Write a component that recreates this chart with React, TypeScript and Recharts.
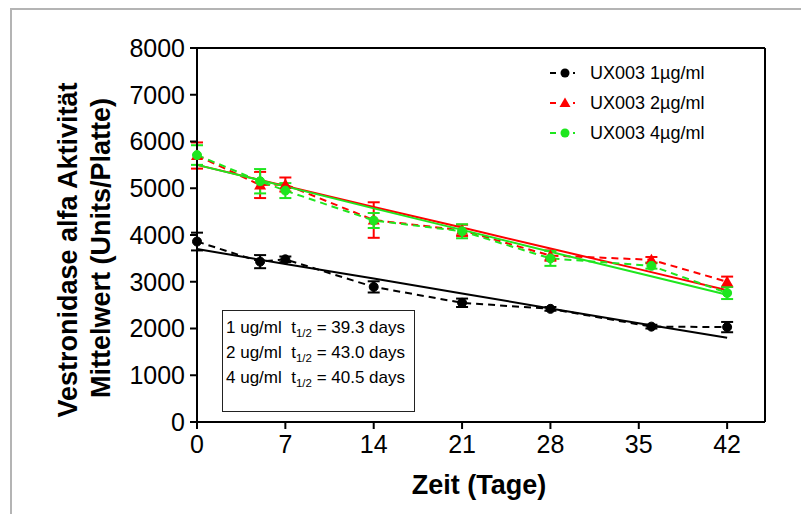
import {
  ComposedChart,
  ErrorBar,
  Label,
  Line,
  ReferenceLine,
  XAxis,
  YAxis,
} from 'recharts';

// measured days and mean activity (Units/Platte) with error
const days = [0, 5, 7, 14, 21, 28, 36, 42];
const mean1 = [3860, 3430, 3480, 2890, 2550, 2420, 2040, 2030];
const err1 = [190, 140, 60, 120, 90, 40, 40, 110];
const mean2 = [5700, 5070, 5080, 4320, 4100, 3560, 3470, 3000];
const err2 = [280, 280, 150, 380, 120, 110, 60, 110];
const mean4 = [5710, 5150, 4950, 4310, 4080, 3500, 3340, 2760];
const err4 = [210, 260, 160, 160, 150, 160, 60, 130];

// fitted decay lines
const fitDays = [0, 7, 14, 21, 28, 35, 42];
const fit1 = [3700, 3380, 3070, 2750, 2430, 2110, 1800];
const fit2 = [5500, 5050, 4600, 4160, 3710, 3270, 2820];
const fit4 = [5500, 5040, 4570, 4110, 3640, 3180, 2720];

const xTicks = [0, 7, 14, 21, 28, 35, 42];
const yTicks = [0, 1000, 2000, 3000, 4000, 5000, 6000, 7000, 8000];

const seriesNames = ['UX003 1µg/ml', 'UX003 2µg/ml', 'UX003 4µg/ml'];
const doses = ['1 ug/ml', '2 ug/ml', '4 ug/ml'];
const halfLives = ['39.3', '43.0', '40.5'];

const BLACK = '#000000';
const RED = '#ff0000';
const GREEN = '#1ee61e';
const FONT = 'Arial, "Liberation Sans", sans-serif';

const toRows = (vals: number[], errs: number[]) =>
  days.map((d, i) => ({ day: d, v: vals[i], e: errs[i] }));
const toFit = (vals: number[]) => fitDays.map((d, i) => ({ day: d, v: vals[i] }));

const s1 = toRows(mean1, err1);
const s2 = toRows(mean2, err2);
const s4 = toRows(mean4, err4);

const circleDot = (color: string) => (props: any) => {
  const { cx, cy, index } = props;
  if (cx == null || cy == null) return <g key={index} />;
  return <circle key={index} cx={cx} cy={cy} r={4.5} fill={color} stroke={color} />;
};

const triangleDot = (props: any) => {
  const { cx, cy, index } = props;
  if (cx == null || cy == null) return <g key={index} />;
  return (
    <polygon
      key={index}
      points={`${cx},${cy - 6} ${cx - 6},${cy + 4.5} ${cx + 6},${cy + 4.5}`}
      fill={RED}
    />
  );
};

const colors = [BLACK, RED, GREEN];

function LegendBox() {
  return (
    <div
      style={{
        position: 'absolute',
        left: 550,
        top: 58,
        fontFamily: FONT,
        fontSize: 18,
        color: '#000',
      }}
    >
      {seriesNames.map((name, i) => (
        <div key={name} style={{ display: 'flex', alignItems: 'center', height: 30 }}>
          <svg width={32} height={14} style={{ marginRight: 8 }}>
            <line x1={0} y1={7} x2={6} y2={7} stroke={colors[i]} strokeWidth={2} />
            {i === 1 ? (
              <polygon points="15,1.5 9.5,11 20.5,11" fill={RED} />
            ) : (
              <circle cx={15} cy={7} r={4.5} fill={colors[i]} />
            )}
            <line x1={23} y1={7} x2={25} y2={7} stroke={colors[i]} strokeWidth={2} />
          </svg>
          <span>{name}</span>
        </div>
      ))}
    </div>
  );
}

function YTitle() {
  const style = { fontFamily: FONT, fontSize: 27, fontWeight: 700, fill: '#000' };
  return (
    <g>
      <text transform="translate(68,250) rotate(-90)" textAnchor="middle" dominantBaseline="central" style={style}>
        Vestronidase alfa Aktivität
      </text>
      <text transform="translate(101,248) rotate(-90)" textAnchor="middle" dominantBaseline="central" style={style}>
        Mittelwert (Units/Platte)
      </text>
    </g>
  );
}

function XTitle() {
  return (
    <text
      x={479}
      y={494}
      textAnchor="middle"
      style={{ fontFamily: FONT, fontSize: 27, fontWeight: 700, fill: '#000' }}
    >
      Zeit (Tage)
    </text>
  );
}

export default function App() {
  const axisStroke = { stroke: '#000', strokeWidth: 2 };
  const tickStyle = { fill: '#000', fontSize: 25, fontFamily: FONT };

  return (
    <div style={{ position: 'absolute', left: 0, top: 0, width: 801, height: 514, background: '#fff' }}>
      <div
        style={{
          position: 'absolute',
          left: 10,
          top: 8,
          right: 0,
          bottom: 0,
          borderTop: '2px solid #b4b4b4',
          borderLeft: '2px solid #b4b4b4',
        }}
      />
      <ComposedChart width={801} height={514} margin={{ top: 48, right: 36, bottom: 0, left: 0 }}>
        <XAxis
          type="number"
          dataKey="day"
          domain={[0, 45]}
          ticks={xTicks}
          height={92}
          tickSize={7}
          tickMargin={6}
          axisLine={axisStroke}
          tickLine={axisStroke}
          tick={tickStyle}
          allowDuplicatedCategory={false}
        >
          <Label content={XTitle} />
        </XAxis>
        <YAxis
          type="number"
          domain={[0, 8000]}
          ticks={yTicks}
          width={197}
          tickSize={7}
          tickMargin={5}
          axisLine={axisStroke}
          tickLine={axisStroke}
          tick={tickStyle}
        >
          <Label content={YTitle} />
        </YAxis>
        <ReferenceLine y={8000} stroke="#000" strokeWidth={2} />
        <ReferenceLine x={45} stroke="#000" strokeWidth={2} />

        <Line
          data={s1}
          dataKey="v"
          stroke={BLACK}
          strokeWidth={2}
          strokeDasharray="7 5"
          dot={circleDot(BLACK)}
          isAnimationActive={false}
        >
          <ErrorBar dataKey="e" direction="y" width={6} stroke={BLACK} strokeWidth={2} />
        </Line>
        <Line data={toFit(fit1)} dataKey="v" stroke={BLACK} strokeWidth={2} dot={false} isAnimationActive={false} />

        <Line
          data={s2}
          dataKey="v"
          stroke={RED}
          strokeWidth={2}
          strokeDasharray="7 5"
          dot={triangleDot}
          isAnimationActive={false}
        >
          <ErrorBar dataKey="e" direction="y" width={6} stroke={RED} strokeWidth={2} />
        </Line>
        <Line data={toFit(fit2)} dataKey="v" stroke={RED} strokeWidth={2} dot={false} isAnimationActive={false} />

        <Line
          data={s4}
          dataKey="v"
          stroke={GREEN}
          strokeWidth={2}
          strokeDasharray="7 5"
          dot={circleDot(GREEN)}
          isAnimationActive={false}
        >
          <ErrorBar dataKey="e" direction="y" width={6} stroke={GREEN} strokeWidth={2} />
        </Line>
        <Line data={toFit(fit4)} dataKey="v" stroke={GREEN} strokeWidth={2} dot={false} isAnimationActive={false} />
      </ComposedChart>

      <LegendBox />

      <div
        style={{
          position: 'absolute',
          left: 222,
          top: 310,
          width: 188,
          height: 95,
          border: '1.5px solid #222',
          fontFamily: FONT,
          fontSize: 17,
          color: '#000',
          padding: '5px 0 0 3px',
          lineHeight: '24px',
          whiteSpace: 'pre',
        }}
      >
        {doses.map((dose, i) => (
          <div key={dose}>
            {dose}  t
            <span style={{ fontSize: 11.5, position: 'relative', top: 4 }}>1/2</span> = {halfLives[i]} days
          </div>
        ))}
      </div>
    </div>
  );
}
